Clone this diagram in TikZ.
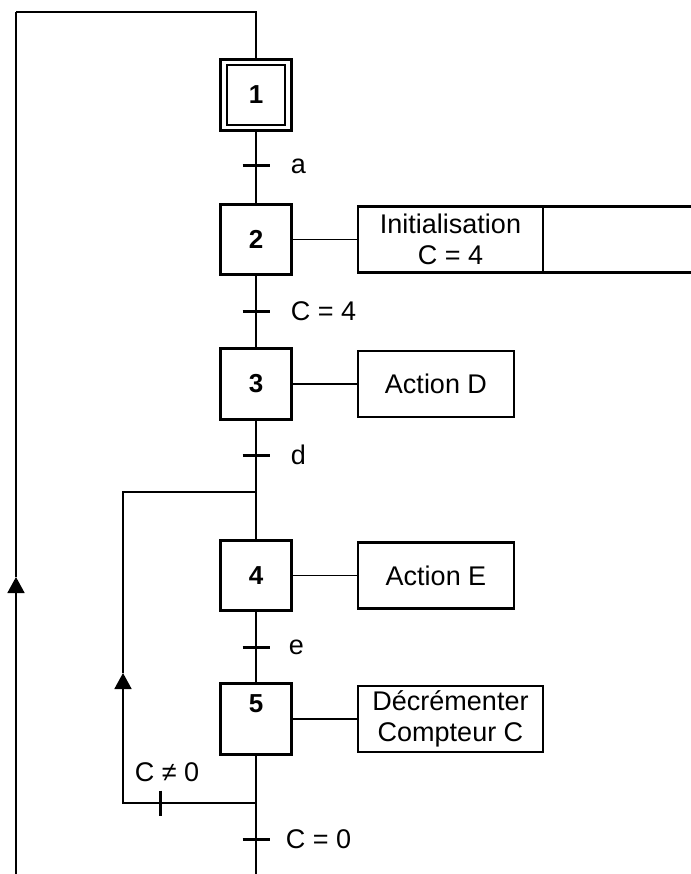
\documentclass[tikz,border=0pt]{standalone}
\usepackage{fontspec}
\setmainfont{Liberation Sans}
\usetikzlibrary{arrows.meta}
\begin{document}
\begin{tikzpicture}[x=1pt,y=-1pt,
  line width=1.7pt,
  every node/.style={inner sep=0pt},
  stepbox/.style={draw, line width=3.4pt, minimum width=71.5pt, minimum height=70.5pt, font=\fontsize{26}{30}\selectfont\bfseries},
  innerbox/.style={draw, line width=1.7pt, minimum width=58pt, minimum height=60pt},
  actbox/.style={draw, line width=2.5pt, outer sep=0pt, minimum height=66pt, align=center, font=\fontsize{27}{31}\selectfont},
  trtick/.style={line width=3pt},
  trlabel/.style={anchor=west, font=\fontsize{27}{31}\selectfont},
  upflow/.style={-{Triangle[length=16pt,width=17pt]}}
]
\useasboundingbox (0,0) rectangle (690,874);

% steps
\node[stepbox] (s1) at (256,95) {1};
\node[innerbox] (s1in) at (256,95) {};
\node[stepbox] (s2) at (256,239.5) {2};
\node[stepbox] (s3) at (256,384) {3};
\node[stepbox] (s4) at (256,575.5) {4};
\node[stepbox, label={[font=\fontsize{26}{30}\selectfont\bfseries, anchor=north, yshift=-12pt]north:5}] (s5) at (256,719) {};

% actions
\node[actbox, minimum width=185pt] (a2) at (450.5,239.5) {Initialisation\\C = 4};
\node[actbox, minimum width=170pt, anchor=west] (a2b) at (a2.east) {};
\node[actbox, minimum width=156pt] (a3) at (436,384) {Action D};
\node[actbox, minimum width=156pt] (a4) at (436,575.5) {Action E};
\node[actbox, minimum width=185pt] (a5) at (450.5,719) {Décrémenter\\Compteur C};

\draw (s2.east) -- (a2.west);
\draw (s3.east) -- (a3.west);
\draw (s4.east) -- (a4.west);
\draw (s5.east) -- (a5.west);

% coordinates
\coordinate (top) at (16,12);
\coordinate (Lbot) at (16,874);
\coordinate (Larr) at (16,577);
\coordinate (Mbot) at (256,874);
\coordinate (j4) at (256,492);
\coordinate (j5) at (256,803);
\coordinate (Larr2) at (123,673);
\coordinate (ta) at (256,166);
\coordinate (tc4) at (256,311);
\coordinate (td) at (256,455);
\coordinate (te) at (256,647);
\coordinate (tc0) at (256,839);
\coordinate (tne) at (160,803);

% main line
\draw (top) -| (s1.north);
\draw (s1.south) -- (s2.north);
\draw (s2.south) -- (s3.north);
\draw (s3.south) -- (s4.north);
\draw (s4.south) -- (s5.north);
\draw (s5.south) -- (Mbot);

% return loops
\draw[upflow] (Lbot) -- (Larr);
\draw (Larr) -- (top);
\draw[upflow] (j5) -| (Larr2);
\draw (Larr2) |- (j4);

% transitions
\foreach \t in {ta,tc4,td,te,tc0}{
  \draw[trtick] ([xshift=-13.5pt]\t) -- ([xshift=13.5pt]\t);
}
\draw[trtick] ([yshift=12.5pt]tne) -- ([yshift=-12.5pt]tne);

\node[trlabel] (la) at (290,166) {a};
\node[trlabel] (lc4) at (290,311) {C = 4};
\node[trlabel] (ld) at (290,455) {d};
\node[trlabel] (le) at (288,647) {e};
\node[trlabel] (lc0) at (285,839) {C = 0};
\node[trlabel] (lne) at (134,772) {C ≠ 0};
\end{tikzpicture}
\end{document}
